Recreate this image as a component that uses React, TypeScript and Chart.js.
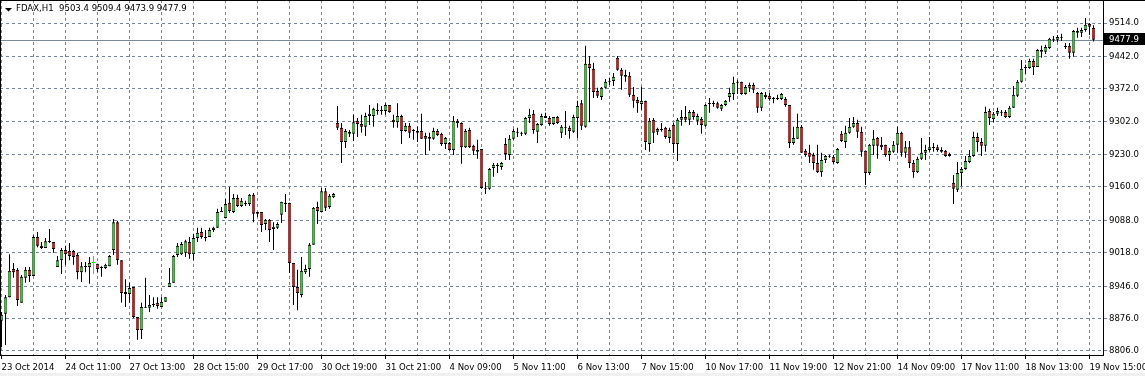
import React, { useEffect, useRef } from 'react';
import { Chart, registerables } from 'chart.js';

Chart.register(...registerables);

const SYMBOL = 'FDAX,H1';

const X_LABELS = [
  '23 Oct 2014', '24 Oct 11:00', '27 Oct 13:00', '28 Oct 15:00', '29 Oct 17:00', '30 Oct 19:00',
  '31 Oct 21:00', '4 Nov 09:00', '5 Nov 11:00', '6 Nov 13:00', '7 Nov 15:00', '10 Nov 17:00',
  '11 Nov 19:00', '12 Nov 21:00', '14 Nov 09:00', '17 Nov 11:00', '18 Nov 13:00', '19 Nov 15:00',
];

const Y_TICKS = [8806, 8876, 8946, 9018, 9088, 9160, 9230, 9302, 9372, 9442, 9514];

const OPEN = [
  8871, 8886, 8922, 8983, 8981, 8910, 8964, 8981, 8968, 9052,
  9033, 9028, 9043, 9041, 8987, 9002, 9024, 9022, 9022, 9013,
  8976, 8989, 8987, 8996, 8994, 8987, 8985, 8989, 9024, 9084,
  9002, 8933, 8929, 8944, 8879, 8851, 8901, 8899, 8907, 8910,
  8901, 8912, 8944, 8953, 9013, 9015, 9018, 9041, 9015, 9050,
  9063, 9052, 9052, 9067, 9072, 9108, 9093, 9126, 9106, 9136,
  9119, 9126, 9123, 9143, 9106, 9106, 9080, 9089, 9069, 9072,
  9100, 9126, 9126, 8996, 8944, 8927, 8976, 8983, 9035, 9117,
  9106, 9151, 9117, 9138, 9298, 9288, 9257, 9279, 9275, 9303,
  9296, 9290, 9313, 9313, 9326, 9326, 9324, 9337, 9305, 9300,
  9313, 9281, 9292, 9283, 9281, 9281, 9270, 9268, 9264, 9281,
  9275, 9253, 9255, 9240, 9303, 9298, 9246, 9283, 9249, 9240,
  9242, 9158, 9156, 9201, 9208, 9203, 9253, 9229, 9264, 9279,
  9277, 9275, 9309, 9318, 9279, 9294, 9313, 9309, 9296, 9311,
  9277, 9290, 9288, 9279, 9309, 9341, 9290, 9426, 9415, 9367,
  9354, 9374, 9389, 9389, 9439, 9413, 9402, 9400, 9359, 9348,
  9339, 9346, 9253, 9305, 9279, 9285, 9288, 9266, 9294, 9253,
  9305, 9311, 9305, 9322, 9303, 9307, 9292, 9341, 9339, 9341,
  9329, 9337, 9354, 9361, 9387, 9387, 9361, 9374, 9380, 9363,
  9331, 9359, 9357, 9352, 9350, 9350, 9350, 9337, 9255, 9264,
  9290, 9238, 9234, 9229, 9212, 9192, 9218, 9225, 9225, 9212,
  9275, 9257, 9277, 9290, 9298, 9279, 9238, 9190, 9249, 9266,
  9251, 9251, 9229, 9236, 9251, 9277, 9234, 9246, 9212, 9192,
  9221, 9234, 9240, 9246, 9246, 9240, 9238, 9231, 9169, 9154,
  9190, 9199, 9214, 9227, 9268, 9257, 9249, 9324, 9307, 9318,
  9322, 9322, 9311, 9331, 9357, 9387, 9417, 9417, 9432, 9419,
  9452, 9452, 9460, 9478, 9478, 9482, 9465, 9465, 9450, 9497,
  9493, 9499, 9512, 9503.4,
];

const HIGH = [
  8890, 8927, 9015, 8996, 8985, 8970, 8987, 8987, 9056, 9063,
  9041, 9050, 9069, 9041, 9011, 9028, 9033, 9039, 9024, 9018,
  8998, 8998, 9009, 9011, 8994, 8989, 8994, 9013, 9091, 9087,
  9002, 8961, 8953, 8944, 8879, 8910, 8964, 8927, 8922, 8922,
  8922, 8922, 8985, 9013, 9039, 9041, 9046, 9052, 9059, 9072,
  9072, 9067, 9072, 9074, 9113, 9117, 9134, 9160, 9145, 9143,
  9136, 9130, 9145, 9147, 9106, 9106, 9091, 9091, 9084, 9084,
  9128, 9145, 9126, 8996, 8981, 9009, 8992, 9039, 9117, 9128,
  9158, 9158, 9145, 9147, 9335, 9298, 9285, 9283, 9316, 9309,
  9316, 9320, 9337, 9331, 9341, 9335, 9341, 9337, 9316, 9341,
  9316, 9298, 9298, 9285, 9290, 9318, 9277, 9277, 9288, 9285,
  9277, 9268, 9257, 9313, 9307, 9300, 9285, 9288, 9251, 9262,
  9242, 9171, 9201, 9212, 9212, 9214, 9266, 9272, 9285, 9288,
  9279, 9311, 9329, 9326, 9298, 9318, 9320, 9313, 9311, 9313,
  9294, 9324, 9292, 9316, 9346, 9348, 9465, 9443, 9428, 9374,
  9376, 9393, 9396, 9406, 9443, 9417, 9413, 9408, 9376, 9354,
  9376, 9346, 9309, 9309, 9288, 9298, 9290, 9288, 9298, 9309,
  9326, 9335, 9326, 9326, 9318, 9311, 9339, 9352, 9346, 9344,
  9339, 9348, 9374, 9398, 9391, 9387, 9380, 9385, 9385, 9365,
  9365, 9365, 9363, 9354, 9359, 9363, 9354, 9337, 9290, 9318,
  9294, 9242, 9251, 9234, 9251, 9234, 9229, 9229, 9229, 9244,
  9281, 9292, 9309, 9311, 9305, 9290, 9238, 9253, 9283, 9268,
  9268, 9251, 9244, 9259, 9290, 9279, 9259, 9259, 9218, 9225,
  9266, 9251, 9268, 9255, 9251, 9246, 9240, 9234, 9186, 9214,
  9203, 9227, 9240, 9279, 9277, 9266, 9333, 9329, 9322, 9331,
  9326, 9326, 9335, 9378, 9391, 9434, 9424, 9437, 9437, 9458,
  9465, 9467, 9482, 9486, 9488, 9491, 9471, 9471, 9499, 9504,
  9504, 9525, 9514, 9509.4,
];

const LOW = [
  8814, 8819, 8922, 8964, 8903, 8910, 8953, 8955, 8968, 9030,
  9026, 9028, 9039, 9018, 8987, 8972, 8992, 9002, 8992, 8961,
  8955, 8976, 8951, 8972, 8976, 8966, 8983, 8989, 9013, 8992,
  8910, 8901, 8910, 8877, 8830, 8832, 8899, 8890, 8901, 8897,
  8901, 8912, 8944, 8953, 9009, 9013, 9009, 9005, 9002, 9041,
  9048, 9043, 9052, 9063, 9072, 9106, 9093, 9104, 9104, 9117,
  9117, 9119, 9119, 9084, 9095, 9063, 9067, 9041, 9024, 9069,
  9082, 9106, 8974, 8905, 8894, 8922, 8972, 8966, 9035, 9080,
  9106, 9108, 9113, 9136, 9283, 9212, 9244, 9268, 9259, 9268,
  9277, 9270, 9294, 9290, 9316, 9316, 9316, 9320, 9288, 9288,
  9253, 9279, 9266, 9262, 9257, 9264, 9229, 9238, 9262, 9270,
  9249, 9242, 9238, 9229, 9288, 9210, 9244, 9244, 9229, 9221,
  9156, 9145, 9154, 9182, 9190, 9197, 9218, 9218, 9262, 9268,
  9270, 9272, 9298, 9275, 9255, 9292, 9309, 9292, 9294, 9296,
  9266, 9272, 9264, 9277, 9266, 9283, 9288, 9300, 9352, 9352,
  9348, 9372, 9380, 9378, 9411, 9370, 9387, 9354, 9331, 9320,
  9326, 9240, 9236, 9255, 9272, 9279, 9264, 9255, 9234, 9216,
  9292, 9300, 9294, 9305, 9294, 9275, 9290, 9320, 9333, 9329,
  9324, 9335, 9344, 9348, 9361, 9359, 9359, 9365, 9363, 9320,
  9324, 9350, 9346, 9341, 9348, 9348, 9333, 9244, 9251, 9264,
  9234, 9225, 9212, 9197, 9190, 9182, 9212, 9223, 9210, 9210,
  9257, 9244, 9275, 9288, 9266, 9225, 9164, 9186, 9229, 9221,
  9240, 9225, 9216, 9234, 9234, 9225, 9223, 9201, 9180, 9190,
  9218, 9218, 9236, 9236, 9236, 9234, 9225, 9225, 9123, 9149,
  9162, 9197, 9212, 9225, 9236, 9227, 9236, 9294, 9300, 9313,
  9313, 9309, 9309, 9331, 9354, 9385, 9404, 9415, 9402, 9419,
  9439, 9447, 9458, 9473, 9473, 9475, 9458, 9437, 9441, 9482,
  9484, 9495, 9488, 9473.9,
];

const CLOSE = [
  8884, 8922, 8979, 8976, 8916, 8966, 8981, 8968, 9052, 9033,
  9028, 9043, 9041, 9026, 9002, 9024, 9015, 9011, 9009, 8976,
  8989, 8987, 8996, 8996, 8983, 8985, 8992, 9011, 9084, 9002,
  8931, 8929, 8942, 8879, 8851, 8901, 8899, 8905, 8905, 8903,
  8912, 8922, 8953, 9011, 9033, 9037, 9043, 9015, 9050, 9061,
  9052, 9050, 9067, 9072, 9106, 9106, 9123, 9108, 9136, 9119,
  9130, 9123, 9143, 9102, 9102, 9078, 9089, 9067, 9074, 9080,
  9128, 9123, 8996, 8944, 8931, 8979, 8983, 9035, 9115, 9108,
  9151, 9115, 9141, 9145, 9288, 9257, 9281, 9275, 9300, 9296,
  9290, 9313, 9318, 9329, 9324, 9324, 9337, 9322, 9300, 9313,
  9281, 9292, 9277, 9281, 9277, 9264, 9264, 9264, 9281, 9272,
  9253, 9266, 9240, 9303, 9298, 9246, 9281, 9246, 9238, 9236,
  9158, 9156, 9199, 9208, 9205, 9212, 9231, 9264, 9281, 9277,
  9275, 9309, 9316, 9283, 9296, 9313, 9309, 9296, 9311, 9298,
  9290, 9288, 9281, 9311, 9335, 9292, 9426, 9417, 9365, 9357,
  9374, 9387, 9387, 9398, 9413, 9400, 9398, 9359, 9346, 9341,
  9346, 9257, 9303, 9277, 9285, 9283, 9268, 9283, 9253, 9305,
  9311, 9305, 9322, 9311, 9313, 9294, 9337, 9339, 9341, 9331,
  9337, 9346, 9363, 9385, 9385, 9361, 9376, 9380, 9370, 9331,
  9363, 9354, 9350, 9350, 9352, 9361, 9337, 9255, 9266, 9290,
  9234, 9229, 9225, 9212, 9192, 9218, 9227, 9227, 9214, 9242,
  9259, 9277, 9290, 9298, 9279, 9236, 9190, 9251, 9264, 9249,
  9246, 9229, 9238, 9251, 9277, 9234, 9246, 9212, 9192, 9221,
  9234, 9240, 9246, 9244, 9240, 9236, 9227, 9227, 9156, 9190,
  9199, 9216, 9227, 9268, 9257, 9249, 9322, 9309, 9318, 9324,
  9320, 9311, 9331, 9359, 9387, 9415, 9419, 9432, 9419, 9456,
  9456, 9462, 9480, 9480, 9484, 9484, 9462, 9450, 9497, 9493,
  9499, 9510, 9506, 9477.9,
];

const BULL = '#33cc33';
const BEAR = '#e01010';
const DOJI = '#00ff00';
const GRID = '#778899';
const FONT = "'DejaVu Sans Condensed', 'DejaVu Sans', sans-serif";

const W = 1145;
const H = 376;
const AXIS_X = 1103;
const AXIS_Y = 355;
const BAR_PX = 4;

export default function App() {
  const ref = useRef<HTMLCanvasElement | null>(null);

  useEffect(() => {
    document.body.style.margin = '0';
    const n = OPEN.length;
    const idx = OPEN.map((_, i) => i);
    const colorOf = (i: number) =>
      CLOSE[i] > OPEN[i] ? BULL : CLOSE[i] < OPEN[i] ? BEAR : DOJI;

    const wickData = idx.map((i) => ({ x: i, y: [LOW[i], HIGH[i]] }));
    const bodyData = idx.map((i) => ({
      x: i,
      y: [Math.min(OPEN[i], CLOSE[i]), Math.max(OPEN[i], CLOSE[i])],
    }));

    const xTickBars: number[] = [];
    X_LABELS.forEach((_, k) => {
      xTickBars.push(k * 16);
      xTickBars.push(k * 16 + 8);
    });
    const xMin = -0.375;
    const xMax = xMin + AXIS_X / BAR_PX;
    const xTicks = xTickBars.filter((v) => v <= xMax);

    const yMax = 9563.7;
    const yMin = 8797.2;

    const decor = {
      id: 'mtDecor',
      beforeDraw(chart: any) {
        const ctx = chart.ctx;
        ctx.save();
        ctx.fillStyle = '#ffffff';
        ctx.fillRect(0, 0, W, H);
        ctx.fillStyle = '#f0f0f0';
        ctx.fillRect(0, 373, W, 3);
        ctx.restore();
      },
      beforeDatasetsDraw(chart: any) {
        const ctx = chart.ctx;
        const y = Math.round(chart.scales.y.getPixelForValue(CLOSE[n - 1])) + 0.5;
        ctx.save();
        ctx.strokeStyle = GRID;
        ctx.lineWidth = 1;
        ctx.beginPath();
        ctx.moveTo(0, y);
        ctx.lineTo(AXIS_X, y);
        ctx.stroke();
        ctx.restore();
      },
      afterDraw(chart: any) {
        const ctx = chart.ctx;
        ctx.save();
        ctx.strokeStyle = '#000';
        ctx.lineWidth = 1;
        ctx.beginPath();
        ctx.moveTo(0, 0.5);
        ctx.lineTo(W, 0.5);
        ctx.moveTo(0.5, 0);
        ctx.lineTo(0.5, AXIS_Y);
        ctx.stroke();
        const yp = Math.round(chart.scales.y.getPixelForValue(CLOSE[n - 1]));
        ctx.fillStyle = '#000';
        ctx.fillRect(AXIS_X + 1, yp - 7, W - AXIS_X - 1, 12);
        ctx.fillStyle = '#fff';
        ctx.font = `9.5px ${FONT}`;
        ctx.textBaseline = 'middle';
        ctx.textAlign = 'left';
        ctx.fillText(CLOSE[n - 1].toFixed(1), AXIS_X + 6, yp - 0.5);
        ctx.fillStyle = '#000';
        ctx.beginPath();
        ctx.moveTo(5, 8);
        ctx.lineTo(12, 8);
        ctx.lineTo(8.5, 11.5);
        ctx.closePath();
        ctx.fill();
        const title = `${SYMBOL}  ${OPEN[n - 1].toFixed(1)} ${HIGH[n - 1].toFixed(1)} ${LOW[n - 1].toFixed(1)} ${CLOSE[n - 1].toFixed(1)}`;
        ctx.fillText(title, 16, 8.5);
        ctx.restore();
      },
    };

    const chart = new Chart(ref.current as HTMLCanvasElement, {
      type: 'bar',
      data: {
        datasets: [
          {
            label: 'wick',
            data: wickData as any,
            order: 1,
            grouped: false,
            barThickness: 1,
            inflateAmount: 0,
            borderWidth: 0,
            backgroundColor: idx.map((i) => (colorOf(i) === DOJI ? DOJI : '#000')),
          } as any,
          {
            label: 'body',
            data: bodyData as any,
            order: 0,
            grouped: false,
            barThickness: 3,
            minBarLength: 1,
            inflateAmount: 0,
            borderWidth: { left: 0.6, right: 0.6, top: 1, bottom: 1 },
            borderSkipped: false,
            borderColor: idx.map((i) => (colorOf(i) === DOJI ? DOJI : '#000')),
            backgroundColor: idx.map((i) => colorOf(i)),
          } as any,
        ],
      },
      options: {
        responsive: false,
        animation: false,
        devicePixelRatio: 1,
        events: [],
        layout: { padding: 0 },
        plugins: { legend: { display: false }, tooltip: { enabled: false } },
        scales: {
          x: {
            type: 'linear',
            offset: false,
            min: xMin,
            max: xMax,
            afterBuildTicks: (s: any) => {
              s.ticks = xTicks.map((v) => ({ value: v }));
            },
            afterFit: (s: any) => {
              s.height = H - AXIS_Y;
              s.paddingLeft = 0;
              s.paddingRight = 0;
            },
            grid: {
              offset: false,
              color: GRID,
              lineWidth: 1,
              drawTicks: true,
              tickLength: 4,
              tickWidth: 1,
              tickColor: (c: any) =>
                c.tick && c.tick.value % 16 === 0 ? '#000' : 'rgba(0,0,0,0)',
            },
            border: { display: true, color: '#000', width: 1, dash: [3, 3] },
            ticks: {
              autoSkip: false,
              maxRotation: 0,
              minRotation: 0,
              align: 'start',
              padding: 3,
              color: '#000',
              font: { family: FONT, size: 9.5 },
              callback: (v: any) => (Number(v) % 16 === 0 ? X_LABELS[Number(v) / 16] : ''),
            },
          } as any,
          y: {
            type: 'linear',
            position: 'right',
            min: yMin,
            max: yMax,
            afterBuildTicks: (s: any) => {
              s.ticks = Y_TICKS.map((v) => ({ value: v }));
            },
            afterFit: (s: any) => {
              s.width = W - AXIS_X;
              s.paddingTop = 0;
              s.paddingBottom = 0;
            },
            grid: {
              color: GRID,
              lineWidth: 1,
              drawTicks: true,
              tickLength: 4,
              tickColor: GRID,
            },
            border: { display: true, color: '#000', width: 1, dash: [3, 3] },
            ticks: {
              padding: 2,
              color: '#000',
              font: { family: FONT, size: 9.5 },
              callback: (v: any) => Number(v).toFixed(1),
            },
          } as any,
        },
      } as any,
      plugins: [decor],
    });

    return () => chart.destroy();
  }, []);

  return (
    <canvas
      ref={ref}
      width={W}
      height={H}
      style={{ display: 'block', width: W, height: H }}
    />
  );
}
